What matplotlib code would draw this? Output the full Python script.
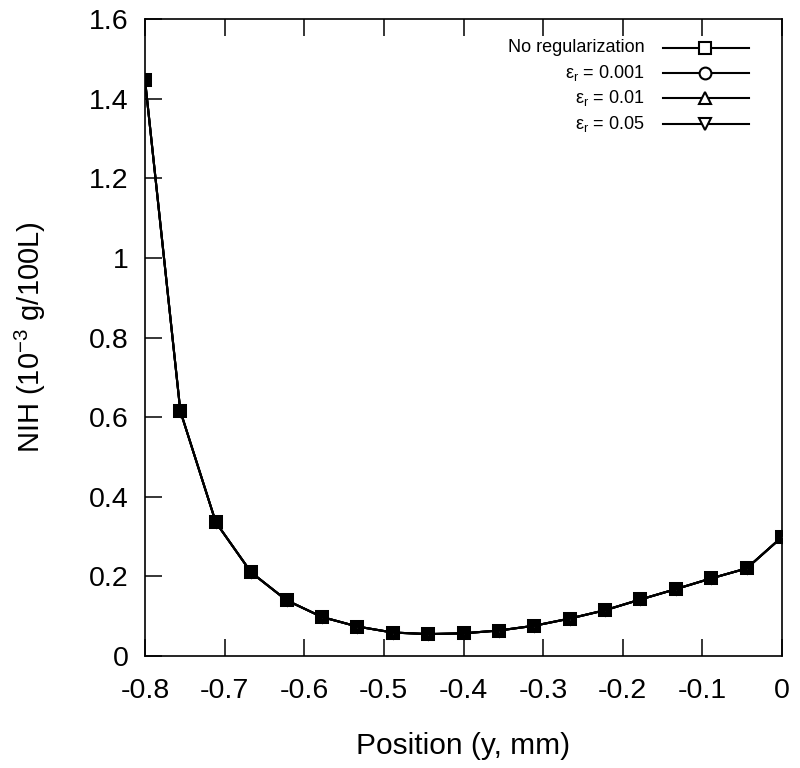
import matplotlib
matplotlib.use("Agg")
import matplotlib.pyplot as plt
from matplotlib.lines import Line2D

plt.rcParams['font.family'] = ['Liberation Sans', 'DejaVu Sans']
plt.rcParams['mathtext.fontset'] = 'custom'
plt.rcParams['mathtext.rm'] = 'Liberation Sans'
plt.rcParams['mathtext.it'] = 'Liberation Sans'

# Data
position = [-0.8, -0.7556, -0.7111, -0.6667, -0.6222, -0.5778, -0.5333, -0.4889,
            -0.4444, -0.4, -0.3556, -0.3111, -0.2667, -0.2222, -0.1778, -0.1333,
            -0.0889, -0.0444, 0.0]
nih_noreg = [1.447, 0.615, 0.336, 0.210, 0.140, 0.098, 0.074, 0.059, 0.055, 0.057,
             0.064, 0.076, 0.094, 0.115, 0.142, 0.168, 0.195, 0.220, 0.299]
nih_e0001 = list(nih_noreg)
nih_e001 = list(nih_noreg)
nih_e005 = list(nih_noreg)

labels = ['No regularization', 'ε$_\\mathregular{r}$ = 0.001',
          'ε$_\\mathregular{r}$ = 0.01', 'ε$_\\mathregular{r}$ = 0.05']
markers = ['s', 'o', '^', 'v']
series = [nih_noreg, nih_e0001, nih_e001, nih_e005]

xticks = [-0.8, -0.7, -0.6, -0.5, -0.4, -0.3, -0.2, -0.1, 0]
xticklabels = ['-0.8', '-0.7', '-0.6', '-0.5', '-0.4', '-0.3', '-0.2', '-0.1', '0']
yticks = [0, 0.2, 0.4, 0.6, 0.8, 1.0, 1.2, 1.4, 1.6]
yticklabels = ['0', '0.2', '0.4', '0.6', '0.8', '1', '1.2', '1.4', '1.6']

fig = plt.figure(figsize=(8, 7.68), dpi=100)
ax = fig.add_axes([145/800, 1 - 656/768, (782-145)/800, (656-19)/768])

msizes = [7.4, 6.0, 6.0, 6.0]
mews = [2.9, 2.0, 2.0, 2.0]
for ys, m, s, w in zip(series, markers, msizes, mews):
    ax.plot(position, ys, color='black', lw=1.5, marker=m, ms=s,
            mfc='none', mec='black', mew=w, zorder=3)

ax.set_xlim(-0.8, 0)
ax.set_ylim(0, 1.6)
ax.set_xticks(xticks)
ax.set_xticklabels(xticklabels)
ax.set_yticks(yticks)
ax.set_yticklabels(yticklabels)
ax.tick_params(axis='both', direction='in', length=12, width=1.1, labelsize=20.5)
ax.tick_params(axis='x', top=True, bottom=True, pad=16)
ax.tick_params(axis='y', left=True, right=False, pad=12)
for sp in ax.spines.values():
    sp.set_linewidth(1.2)

ax.set_xlabel('Position (y, mm)', fontsize=21.5, labelpad=20)
ax.set_ylabel('NIH (10$^{\\mathregular{-3}}$ g/100L)', fontsize=21, labelpad=29)

# Manual legend (right-aligned text, line samples on the right)
rows = [0.955, 0.916, 0.876, 0.835]
for lab, m, yr in zip(labels, markers, rows):
    ax.text(0.785, yr, lab, transform=ax.transAxes, ha='right', va='center', fontsize=13)
    ax.add_line(Line2D([0.813, 0.948], [yr, yr], transform=ax.transAxes,
                       color='black', lw=1.5))
    ax.add_line(Line2D([0.879], [yr], transform=ax.transAxes, marker=m, ms=8.5,
                       mfc='white', mec='black', mew=1.5, color='black'))

fig.savefig('out.png', dpi=100)
